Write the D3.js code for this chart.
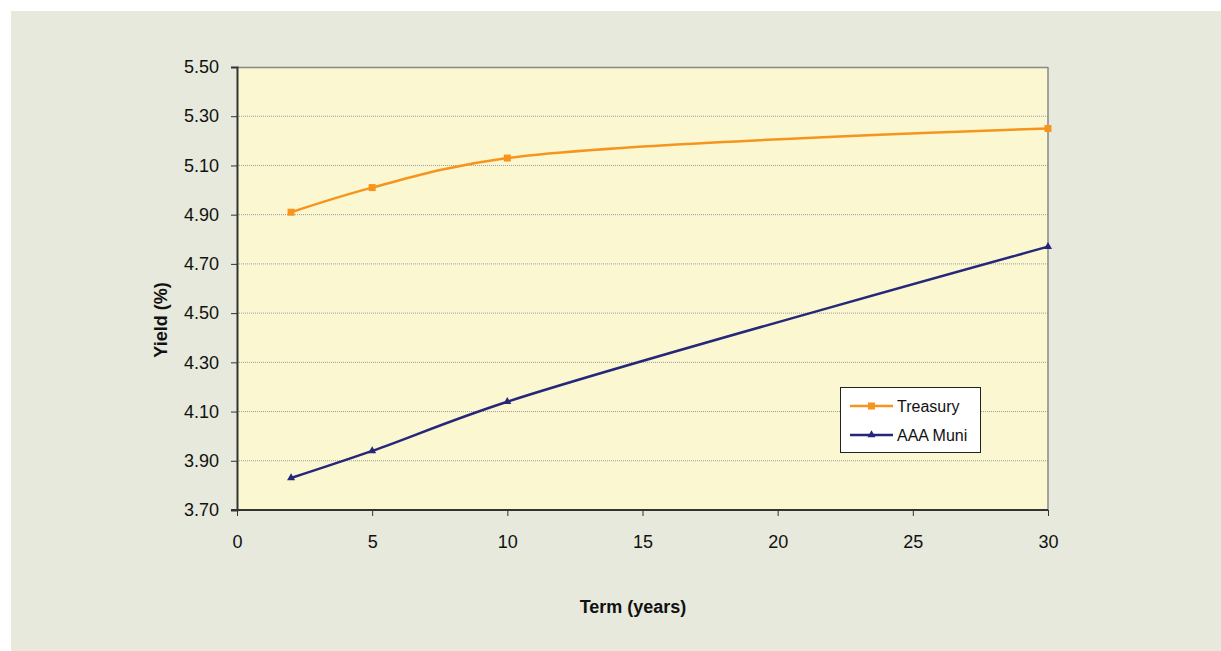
<!DOCTYPE html>
<html><head><meta charset="utf-8">
<script src="https://cdn.jsdelivr.net/npm/d3@7"></script>
<style>
html,body{margin:0;padding:0;background:#fff;}
svg{display:block;font-family:"Liberation Sans",Arial,sans-serif;}
</style></head>
<body>
<svg id="c" width="1221" height="651"></svg>
<script>
const terms = [2, 5, 10, 30];
const treasury = [4.91, 5.01, 5.13, 5.25];
const muni = [3.83, 3.94, 4.14, 4.77];
const seriesNames = ["Treasury", "AAA Muni"];
const xTicks = [0, 5, 10, 15, 20, 25, 30];
const yTicks = [3.70, 3.90, 4.10, 4.30, 4.50, 4.70, 4.90, 5.10, 5.30, 5.50];

const svg = d3.select("#c");
svg.append("rect").attr("x",11).attr("y",11).attr("width",1210).attr("height",640).attr("fill","#e6e9dc");

const L=237, R=1048, T=67, B=510;
const x = d3.scaleLinear().domain([0,30]).range([L,R]);
const y = d3.scaleLinear().domain([3.70,5.50]).range([B,T]);

svg.append("rect").attr("x",L).attr("y",T).attr("width",R-L).attr("height",B-T).attr("fill","#fbf8d1");

// gridlines
svg.append("g").selectAll("line").data(yTicks.filter(v=>v>3.71 && v<5.49)).join("line")
  .attr("x1",L).attr("x2",R).attr("y1",d=>y(d)).attr("y2",d=>y(d))
  .attr("stroke","#9a9a9a").attr("stroke-width",1).attr("stroke-dasharray","1,1");

// top and right borders
svg.append("line").attr("x1",L).attr("x2",R).attr("y1",T+0.5).attr("y2",T+0.5).attr("stroke","#888").attr("stroke-width",1.5);
svg.append("line").attr("x1",R).attr("x2",R).attr("y1",T).attr("y2",B).attr("stroke","#888").attr("stroke-width",1.5);

// axes
const yAxis = d3.axisLeft(y).tickValues(yTicks).tickFormat(d3.format(".2f")).tickSize(6).tickPadding(12);
const gy = svg.append("g").attr("transform",`translate(${L},0)`).call(yAxis);
const xAxis = d3.axisBottom(x).tickValues(xTicks).tickSize(6).tickPadding(19);
const gx = svg.append("g").attr("transform",`translate(0,${B})`).call(xAxis);
[gx,gy].forEach(g=>{
  g.select(".domain").attr("stroke","#333").attr("stroke-width",2);
  g.selectAll(".tick line").attr("stroke","#333").attr("stroke-width",1);
  g.selectAll(".tick text").attr("fill","#111").style("font-size","18px").style("font-family","'Liberation Sans',Arial,sans-serif");
});
gx.select(".domain").attr("d",`M${L-6},0H${R}`);

// lines
const line = d3.line().x(d=>x(d[0])).y(d=>y(d[1])).curve(d3.curveCatmullRom.alpha(0.5));
const tData = terms.map((t,i)=>[t,treasury[i]]);
const mData = terms.map((t,i)=>[t,muni[i]]);
const orange="#f7941d", navy="#27277a";
svg.append("path").attr("d",line(tData)).attr("fill","none").attr("stroke",orange).attr("stroke-width",2.5);
svg.append("path").attr("d",line(mData)).attr("fill","none").attr("stroke",navy).attr("stroke-width",2.5);

svg.append("g").selectAll("rect").data(tData).join("rect")
  .attr("x",d=>x(d[0])-3.5).attr("y",d=>y(d[1])-3.5).attr("width",7).attr("height",7).attr("fill",orange);
const tri = d3.symbol().type(d3.symbolTriangle).size(28);
svg.append("g").selectAll("path").data(mData).join("path")
  .attr("transform",d=>`translate(${x(d[0])},${y(d[1])})`).attr("d",tri).attr("fill",navy);

// legend
const lg = svg.append("g").attr("transform","translate(840,387)");
lg.append("rect").attr("x",0.5).attr("y",0.5).attr("width",140).attr("height",65).attr("fill","#fff").attr("stroke","#222").attr("stroke-width",1);
const items = [{n:seriesNames[0],c:orange,m:"sq"},{n:seriesNames[1],c:navy,m:"tri"}];
items.forEach((it,i)=>{
  const yy = 19 + i*29;
  lg.append("line").attr("x1",10).attr("x2",53).attr("y1",yy).attr("y2",yy).attr("stroke",it.c).attr("stroke-width",2.5);
  if(it.m==="sq") lg.append("rect").attr("x",28).attr("y",yy-3.5).attr("width",7).attr("height",7).attr("fill",it.c);
  else lg.append("path").attr("transform",`translate(31.5,${yy})`).attr("d",tri).attr("fill",it.c);
  lg.append("text").attr("x",57).attr("y",yy+6).text(it.n).attr("fill","#111").style("font-size","16px");
});

// axis titles
svg.append("text").attr("x",633).attr("y",613).attr("text-anchor","middle").style("font-size","18px").style("font-weight","bold").attr("fill","#111").text("Term (years)");
svg.append("text").attr("transform","translate(167,320) rotate(-90)").attr("text-anchor","middle").style("font-size","18px").style("font-weight","bold").attr("fill","#111").text("Yield (%)");
</script>
</body></html>
